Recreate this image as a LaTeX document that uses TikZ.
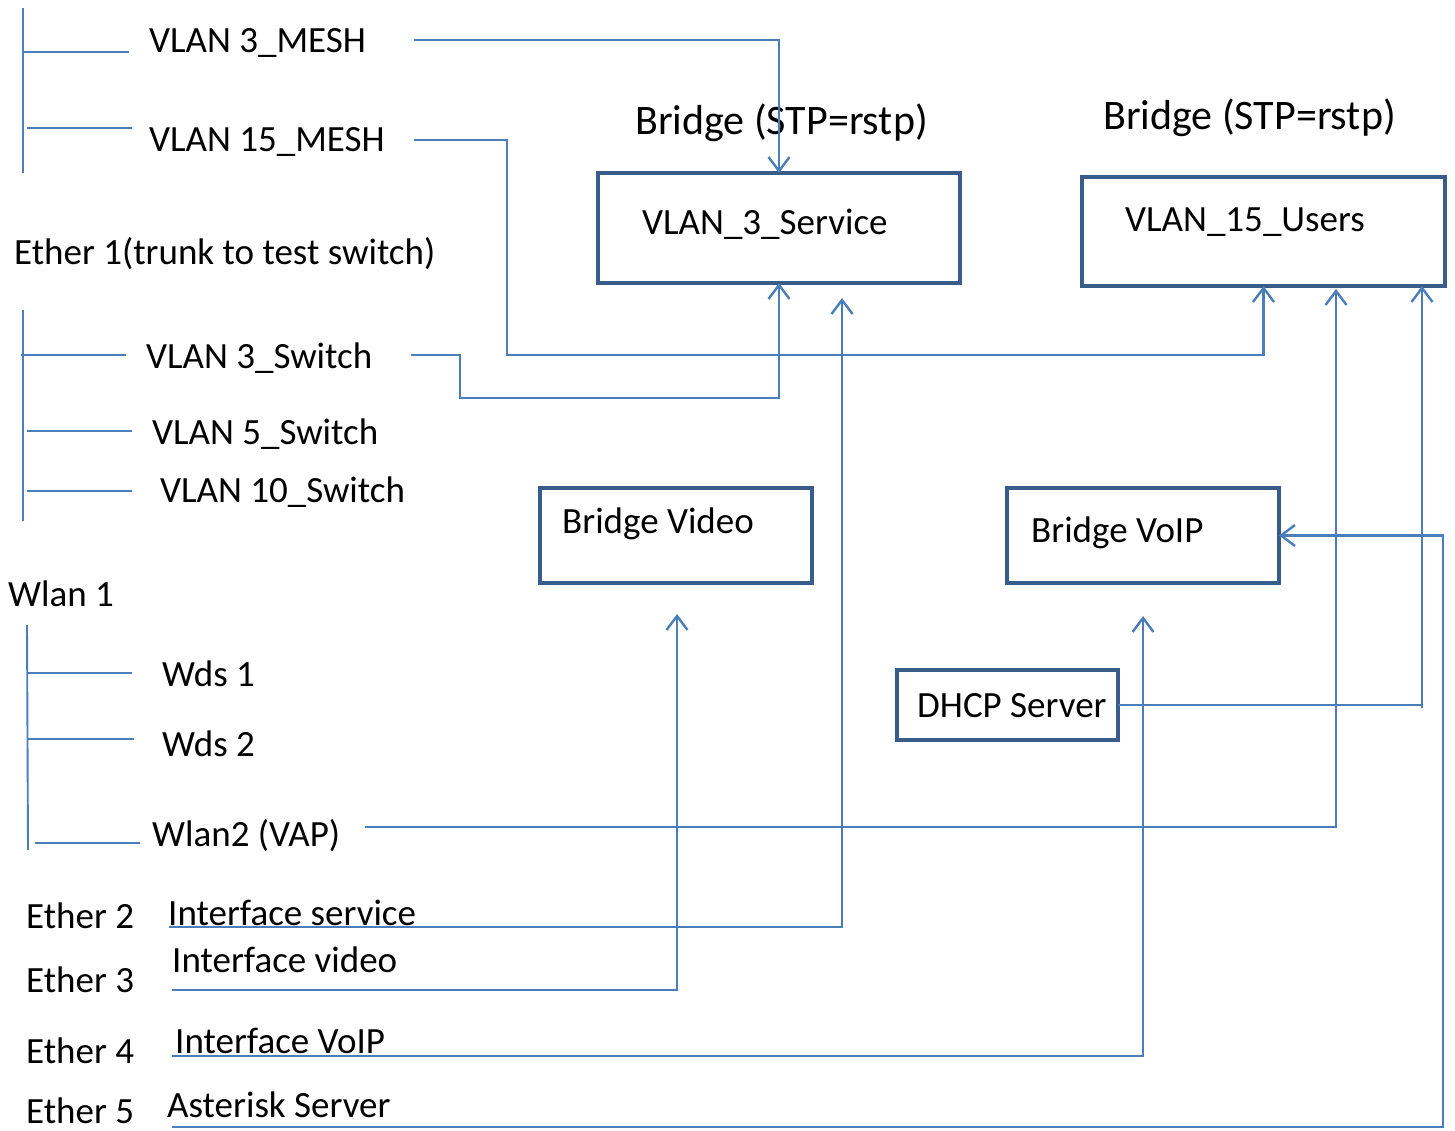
\documentclass[tikz,border=0pt]{standalone}
\usepackage{fontspec}
\setmainfont{Carlito}
\usetikzlibrary{arrows.meta}
\definecolor{connc}{HTML}{4A7EBB}
\definecolor{boxc}{HTML}{385D8A}
\begin{document}
\begin{tikzpicture}[x=1pt,y=-1pt,
  conn/.style={draw=connc,line width=2.4pt},
  tree/.style={draw=connc,line width=1.9pt},
  arr/.style={conn,-{Straight Barb[length=14pt,width=21pt,line width=2.4pt]}},
  lbl/.style={anchor=base west,inner sep=0pt,font=\fontsize{37}{44}\selectfont},
  big/.style={lbl,font=\fontsize{42}{50}\selectfont},
  box/.style={draw=boxc,line width=4.5pt,inner sep=0pt,outer sep=0pt,anchor=north west}]
\useasboundingbox (0,0) rectangle (1455,1131);

% ---- boxes
\node[box,minimum width=362pt,minimum height=110pt] (svc) at (598,173) {};
\node[box,minimum width=363pt,minimum height=109pt] (users) at (1082,177) {};
\node[box,minimum width=272pt,minimum height=95pt] (bvid) at (540,488) {};
\node[box,minimum width=272pt,minimum height=95pt] (bvoip) at (1007,488) {};
\node[box,minimum width=221pt,minimum height=70pt] (dhcp) at (897,670) {};

% ---- box texts
\node[lbl] (svct) at (642,235) {VLAN\_3\_Service};
\node[lbl] (usert) at (1125,232) {VLAN\_15\_Users};
\node[lbl] (bvidt) at (562,533) {Bridge Video};
\node[lbl] (bvoipt) at (1031,542) {Bridge VoIP};
\node[lbl] (dhcpt) at (917,717) {DHCP Server};
\node[big] (br1) at (635,135) {Bridge (STP=rstp)};
\node[big] (br2) at (1103,130) {Bridge (STP=rstp)};

% ---- left labels
\node[lbl] (m3) at (149,53) {VLAN 3\_MESH};
\node[lbl] (m15) at (149,152) {VLAN 15\_MESH};
\node[lbl] (eth1) at (14,265) {Ether 1(trunk to test switch)};
\node[lbl] (s3) at (146,368) {VLAN 3\_Switch};
\node[lbl] (s5) at (152,444) {VLAN 5\_Switch};
\node[lbl] (s10) at (160,502) {VLAN 10\_Switch};
\node[lbl] (wl1) at (8,606) {Wlan 1};
\node[lbl] (wds1) at (162,686) {Wds 1};
\node[lbl] (wds2) at (162,756) {Wds 2};
\node[lbl] (vap) at (152,846) {Wlan2 (VAP)};
\node[lbl] (e2) at (26,928) {Ether 2};
\node[lbl] (e3) at (26,992) {Ether 3};
\node[lbl] (e4) at (26,1063) {Ether 4};
\node[lbl] (e5) at (26,1123) {Ether 5};
\node[lbl] (isvc) at (168,925) {Interface service};
\node[lbl] (ivid) at (172,972) {Interface video};
\node[lbl] (ivoip) at (175,1053) {Interface VoIP};
\node[lbl] (ast) at (167,1117) {Asterisk Server};

% ---- tree brackets
\draw[tree] (23,8) -- (23,173);
\draw[tree] (23,52) -- (129,52);
\draw[tree] (27,128) -- (132,128);
\draw[tree] (23,310) -- (23,521);
\draw[tree] (21,355) -- (126,355);
\draw[tree] (27,431) -- (132,431);
\draw[tree] (27,491) -- (132,491);
\draw[tree] (27,625) -- (28,850);
\draw[tree] (27,673) -- (132,673);
\draw[tree] (28,739) -- (134,739);
\draw[tree] (35,843) -- (140,843);

% ---- connector end points
\coordinate (m3o) at (414,40);
\coordinate (m15o) at (414,140);
\coordinate (m15j) at (507,355);
\coordinate (s3o) at (411,355);
\coordinate (s3j) at (460,398);
\coordinate (vapo) at (365,827);
\coordinate (u2) at (1336,289);
\coordinate (u3) at (1422,286);
\coordinate (dhr) at (1422,705);
\coordinate (dhb) at (1422,708);
\coordinate (isvco) at (169,927);
\coordinate (svctip) at (842,298);
\coordinate (ivido) at (172,990);
\coordinate (vidtip) at (677,614);
\coordinate (ivoipo) at (172,1056);
\coordinate (voiptip) at (1143,616);
\coordinate (asto) at (172,1127);
\coordinate (astc) at (1443,1127);

% ---- connectors
\draw[arr] (m3o) -| (svc.north);
\draw[arr] (m15o) -| (m15j) -| (users.south);
\draw[arr] (s3o) -| (s3j) -| (svc.south);
\draw[arr] (vapo) -| (u2);
\draw[conn] (dhcp.east) -- (dhr);
\draw[arr] (dhb) -- (u3);
\draw[arr] (isvco) -| (svctip);
\draw[arr] (ivido) -| (vidtip);
\draw[arr] (ivoipo) -| (voiptip);
\draw[arr] (asto) -- (astc) |- (bvoip.east);
\end{tikzpicture}
\end{document}
